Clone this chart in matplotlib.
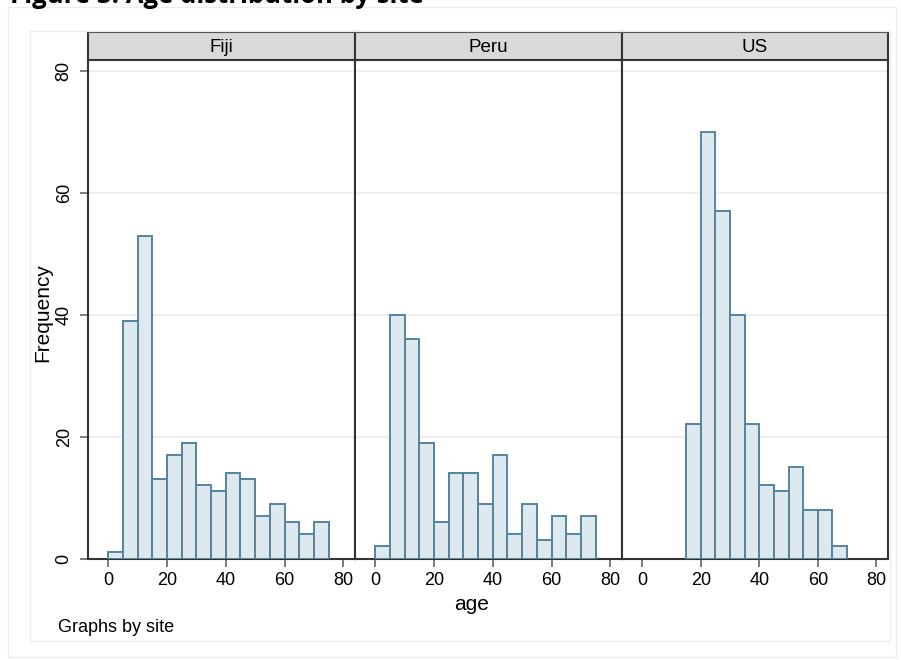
import numpy as np
import matplotlib.pyplot as plt
from matplotlib.patches import Rectangle

plt.rcParams['font.family'] = ['Liberation Sans', 'DejaVu Sans']

# age histograms by site, bin width 5
sites = ['Fiji', 'Peru', 'US']
bin_width = 5
fiji_start = 0
fiji_counts = [1, 39, 53, 13, 17, 19, 12, 11, 14, 13, 7, 9, 6, 4, 6]
peru_start = 0
peru_counts = [2, 40, 36, 19, 6, 14, 14, 9, 17, 4, 9, 3, 7, 4, 7]
us_start = 15
us_counts = [22, 70, 57, 40, 22, 12, 11, 15, 8, 8, 2]

x_ticks = [0, 20, 40, 60, 80]
y_ticks = [0, 20, 40, 60, 80]

starts = [fiji_start, peru_start, us_start]
counts = [fiji_counts, peru_counts, us_counts]

W, H = 901, 660
fig = plt.figure(figsize=(W / 100, H / 100), dpi=100)


def box(x0, y0, x1, y1):
    # pixel box (from top-left) -> figure fraction rect
    return [x0 / W, 1 - y1 / H, (x1 - x0) / W, (y1 - y0) / H]


# faint outer and graph-region frames
for (x0, y0, x1, y1) in [(8, 7, 896, 657), (30, 31, 890, 641)]:
    r = box(x0, y0, x1, y1)
    fig.patches.append(Rectangle((r[0], r[1]), r[2], r[3], transform=fig.transFigure,
                                 fill=False, edgecolor='#ececec', linewidth=1.0))

# title sitting above, mostly cut off by the top edge
fig.text(10 / W, 1 - 3 / H, 'Figure 3: Age distribution by site', fontsize=18.5,
         fontweight='bold', family='Open Sans', va='baseline', ha='left')

panel_edges = [88, 355, 622, 888]
plot_top, plot_bottom, strip_top = 60, 558.5, 32
bar_fill = '#dee9ef'
bar_edge = '#55849f'
spine_col = '#333333'

for i, site in enumerate(sites):
    x0, x1 = panel_edges[i], panel_edges[i + 1]
    ax = fig.add_axes(box(x0, plot_top, x1, plot_bottom))
    lefts = starts[i] + bin_width * np.arange(len(counts[i]))
    ax.bar(lefts, counts[i], width=bin_width, align='edge', color=bar_fill,
           edgecolor=bar_edge, linewidth=1.4, zorder=3)
    ax.set_xlim(-6.9, 84)
    ax.set_ylim(0, 81.8)
    ax.set_xticks(x_ticks)
    ax.set_yticks(y_ticks)
    ax.grid(axis='y', color='#efefef', linewidth=1.5, zorder=0)
    ax.set_axisbelow(True)
    ax.spines['top'].set_visible(False)
    for s in ['left', 'right', 'bottom']:
        ax.spines[s].set_color(spine_col)
        ax.spines[s].set_linewidth(1.5)
    ax.tick_params(axis='x', length=6, width=1.2, color='#666666', pad=3.5,
                   labelsize=13)
    if i == 0:
        ax.tick_params(axis='y', length=6, width=1.2, color='#666666', pad=5,
                       labelsize=13)
        for lab in ax.get_yticklabels():
            lab.set_rotation(90)
            lab.set_va('center')
            lab.set_ha('right')
    else:
        ax.tick_params(axis='y', length=0, labelleft=False)

    # strip header with the site name
    hx = fig.add_axes(box(x0, strip_top, x1, plot_top))
    hx.set_facecolor('#d9d9d9')
    hx.set_xticks([])
    hx.set_yticks([])
    for s in hx.spines.values():
        s.set_color(spine_col)
        s.set_linewidth(1.5)
    hx.text(0.5, 0.45, site, transform=hx.transAxes, ha='center', va='center',
            fontsize=13.5)

fig.text(472 / W, 1 - 605 / H, 'age', ha='center', va='center', fontsize=15)
fig.text(43 / W, 1 - 313 / H, 'Frequency', ha='center', va='center', fontsize=15,
         rotation=90)
fig.text(58 / W, 1 - 628 / H, 'Graphs by site', ha='left', va='center', fontsize=13)

fig.savefig('out.png', dpi=100)
